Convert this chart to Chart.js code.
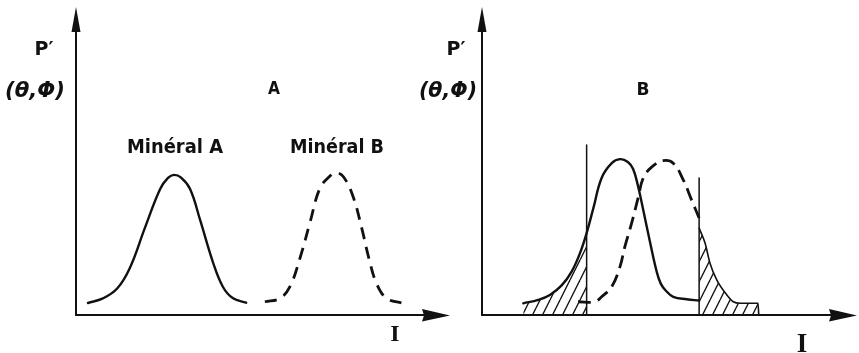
<!DOCTYPE html>
<html>
<head>
<meta charset="utf-8">
<script src="https://cdn.jsdelivr.net/npm/chart.js@4.4.1/dist/chart.umd.min.js"></script>
<style>
  html, body { margin: 0; padding: 0; background: #fff; }
  #wrap { position: relative; width: 859px; height: 353px; overflow: hidden; background: #fff; }
  canvas { position: absolute; top: 0; }
  #panelA { left: 0; }
  #panelB { left: 410px; }
</style>
</head>
<body>
<div id="wrap">
  <canvas id="panelA" width="460" height="353"></canvas>
  <canvas id="panelB" width="449" height="353"></canvas>
</div>
<script>
// Intensity I (x, 0-100) and response P'(θ,Φ) (y, 0-100) of each mineral.

// Panel A: the two minerals are well separated
const solidA_I  = [3.2, 7.2, 11.0, 14.4, 18.4, 22.5, 24.6, 26.2, 28.1, 30.5, 33.2, 36.6, 39.3, 42.0, 45.5];
const solidA_P  = [3.9, 5.4, 8.6, 15.3, 28.2, 40.9, 44.5, 45.5, 44.6, 40.9, 30.8, 17.2, 9.1, 5.4, 4.0];
const dashedA_I = [50.5, 54.5, 57.2, 59.9, 62.6, 65.2, 67.9, 69.5, 71.5, 74.1, 76.4, 78.3, 80.4, 83.1, 87.5];
const dashedA_P = [4.3, 5.4, 9.2, 18.5, 30.2, 41.1, 45.1, 46.2, 44.9, 38.4, 28.2, 18.5, 10.1, 5.4, 3.8];

// Panel B: overlapping minerals, cut by two thresholds
const solidB_I  = [11.0, 15.0, 18.1, 21.3, 23.9, 26.1, 27.9, 29.7, 31.9, 34.6, 36.8, 38.9, 40.3, 41.6, 43.0, 44.8, 46.6, 47.7, 49.1, 51.0, 54.6, 57.9];
const solidB_P  = [3.8, 4.9, 6.5, 9.7, 14.1, 20.0, 26.6, 34.7, 44.5, 49.3, 50.6, 49.7, 47.4, 41.9, 34.1, 23.7, 14.0, 10.1, 7.8, 5.9, 5.1, 4.7];
const dashedB_I = [25.6, 30.1, 31.9, 34.6, 36.8, 38.1, 39.9, 41.7, 43.0, 45.3, 48.3, 51.0, 53.7, 55.9, 57.9];
const dashedB_P = [4.3, 4.3, 5.9, 9.2, 15.7, 22.2, 29.8, 38.4, 44.5, 48.1, 50.1, 49.3, 43.8, 37.3, 31.5];
const tailB_I   = [57.9, 59.5, 60.8, 62.6, 65.3, 67.0, 68.8, 73.6, 73.8];
const tailB_P   = [28.2, 23.3, 16.8, 11.4, 6.5, 4.3, 3.8, 3.8, 0];

// Threshold lines in panel B
const cutoffI   = [27.9, 57.9];
const cutoffTop = [55.2, 44.5];

const ink = '#111';

const pts = (xs, ys) => xs.map((x, i) => ({ x, y: ys[i] }));

function hatchPattern() {
  const w = 10, h = 20;
  const c = document.createElement('canvas');
  c.width = w; c.height = h;
  const g = c.getContext('2d');
  g.strokeStyle = ink;
  g.lineWidth = 1.3;
  for (const dx of [-w, 0, w]) {
    g.beginPath();
    g.moveTo(dx, h);
    g.lineTo(dx + w, 0);
    g.stroke();
  }
  return g.createPattern(c, 'repeat');
}
const hatch = hatchPattern();

// Axes with arrow heads, drawn from the chart's own scales
const arrowAxes = {
  id: 'arrowAxes',
  beforeDatasetsDraw(chart) {
    const { ctx, scales } = chart;
    const x0 = scales.x.getPixelForValue(0);
    const y0 = scales.y.getPixelForValue(0);
    const xEnd = scales.x.getPixelForValue(100);
    const yEnd = scales.y.getPixelForValue(100);
    ctx.save();
    ctx.strokeStyle = ink;
    ctx.fillStyle = ink;
    ctx.lineWidth = 2;
    ctx.beginPath();
    ctx.moveTo(x0, yEnd + 20);
    ctx.lineTo(x0, y0);
    ctx.lineTo(xEnd - 20, y0);
    ctx.stroke();
    ctx.beginPath();
    ctx.moveTo(x0, yEnd);
    ctx.lineTo(x0 + 4.5, yEnd + 25);
    ctx.lineTo(x0 - 4.5, yEnd + 25);
    ctx.closePath();
    ctx.fill();
    ctx.beginPath();
    ctx.moveTo(xEnd, y0 + 0.5);
    ctx.lineTo(xEnd - 28, y0 - 6);
    ctx.lineTo(xEnd - 26, y0 + 0.5);
    ctx.lineTo(xEnd - 28, y0 + 6.5);
    ctx.closePath();
    ctx.fill();
    ctx.restore();
  }
};

// Free text: axis titles, panel letters, curve names (optionally fitted to a width)
const sketchLabels = {
  id: 'sketchLabels',
  afterDraw(chart, args, opts) {
    const ctx = chart.ctx;
    for (const it of opts.items || []) {
      ctx.save();
      ctx.fillStyle = ink;
      ctx.textAlign = 'center';
      ctx.textBaseline = 'alphabetic';
      ctx.font = it.font;
      ctx.translate(it.x, it.y);
      if (it.w) ctx.scale(it.w / ctx.measureText(it.text).width, 1);
      ctx.fillText(it.text, 0, 0);
      ctx.restore();
    }
  }
};

const sans = '"DejaVu Sans", sans-serif';
const serif = '"Liberation Serif", serif';

function makePanel(id, datasets, labels, padLeft, padRight) {
  return new Chart(document.getElementById(id), {
    type: 'line',
    data: { datasets },
    options: {
      responsive: false,
      animation: false,
      events: [],
      layout: { padding: { left: padLeft, right: padRight, top: 7, bottom: 38 } },
      scales: {
        x: { type: 'linear', min: 0, max: 100, display: false },
        y: { type: 'linear', min: 0, max: 100, display: false }
      },
      elements: {
        point: { radius: 0 },
        line: { tension: 0.4, borderColor: ink, fill: false, borderCapStyle: 'round', borderJoinStyle: 'round' }
      },
      plugins: {
        legend: { display: false },
        tooltip: { enabled: false },
        sketchLabels: { items: labels }
      }
    },
    plugins: [arrowAxes, sketchLabels]
  });
}

makePanel('panelA', [
  { label: 'Minéral A', data: pts(solidA_I, solidA_P), borderWidth: 2.4 },
  { label: 'Minéral B', data: pts(dashedA_I, dashedA_P), borderWidth: 2.8, borderDash: [12, 8], borderCapStyle: 'butt' }
], [
  { text: 'P′', x: 44, y: 55, font: 'bold 19px ' + sans },
  { text: '(θ,Φ)', x: 35, y: 97, font: 'bold italic 22px ' + sans, w: 60 },
  { text: 'A', x: 274, y: 94, font: 'bold 18px ' + sans, w: 12 },
  { text: 'Minéral A', x: 175, y: 153, font: 'bold 20px ' + sans, w: 96 },
  { text: 'Minéral B', x: 337, y: 153, font: 'bold 20px ' + sans, w: 94 },
  { text: 'I', x: 395, y: 341, font: 'bold 24px ' + serif }
], 76, 10);

const leftHatch = pts(solidB_I, solidB_P).filter(p => p.x <= cutoffI[0]);

makePanel('panelB', [
  { label: 'Minéral A', data: pts(solidB_I, solidB_P), borderWidth: 2.4, order: 0 },
  { label: 'Minéral B', data: pts(dashedB_I, dashedB_P), borderWidth: 2.8, borderDash: [13, 7], borderCapStyle: 'butt', order: 0 },
  { label: 'seuil 1', data: [{ x: cutoffI[0], y: 0 }, { x: cutoffI[0], y: cutoffTop[0] }],
    borderWidth: 1.5, tension: 0, order: 1 },
  { label: 'seuil 2', data: [{ x: cutoffI[1], y: 0 }, { x: cutoffI[1], y: cutoffTop[1] }],
    borderWidth: 1.5, tension: 0, order: 1 },
  { label: 'A hors seuil', data: leftHatch, borderWidth: 0, fill: 'origin', backgroundColor: hatch, order: 2 },
  { label: 'B hors seuil', data: pts(tailB_I, tailB_P), borderWidth: 1.6, cubicInterpolationMode: 'monotone',
    fill: 'origin', backgroundColor: hatch, order: 2 }
], [
  { text: 'P′', x: 46, y: 55, font: 'bold 19px ' + sans },
  { text: '(θ,Φ)', x: 38, y: 97, font: 'bold italic 22px ' + sans, w: 58 },
  { text: 'B', x: 233, y: 95, font: 'bold 18px ' + sans, w: 13 },
  { text: 'I', x: 392, y: 352, font: 'bold 27px ' + serif }
], 72, 2);
</script>
</body>
</html>
